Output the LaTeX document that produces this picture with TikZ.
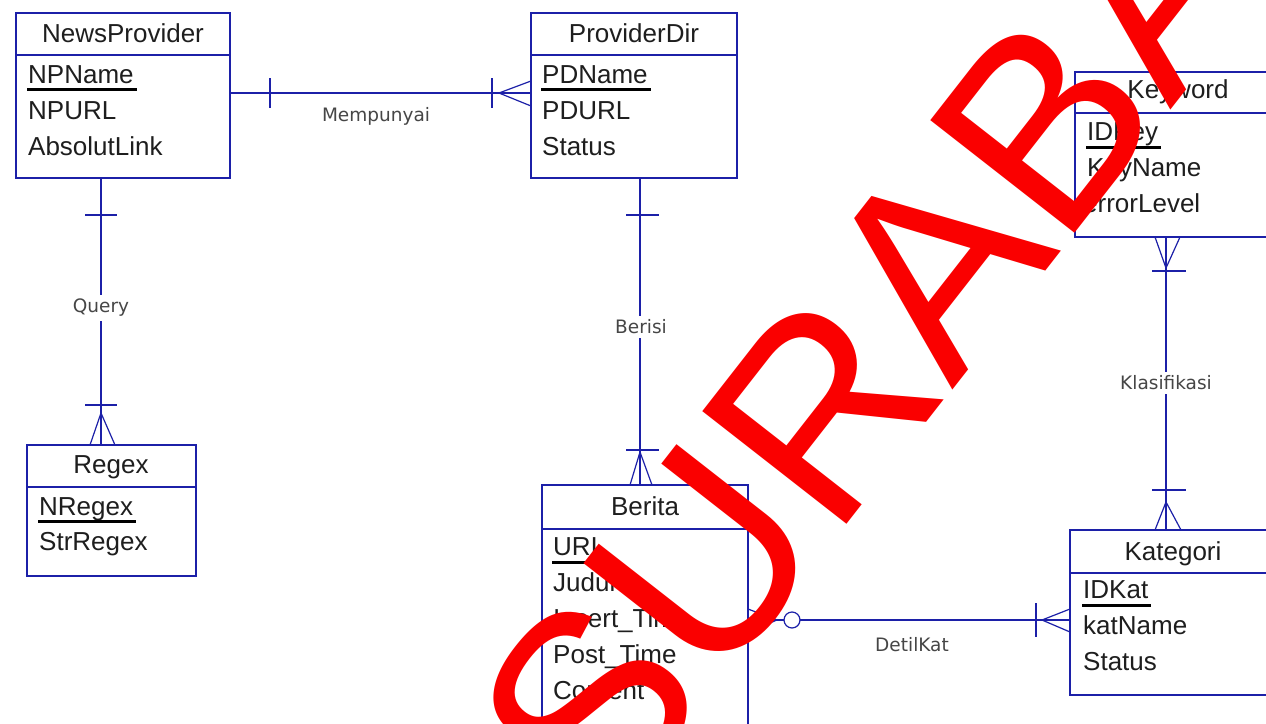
\documentclass[tikz,border=0pt]{standalone}
\usepackage{fontspec}
\setmainfont{Liberation Sans}
\newfontfamily\lblfamily{DejaVu Sans}
\usetikzlibrary{calc}
\definecolor{erblue}{RGB}{28,32,168}
\definecolor{txtcol}{RGB}{30,30,30}
\definecolor{lblcol}{RGB}{70,70,70}
\definecolor{wmred}{RGB}{250,0,0}

\begin{document}
\begin{tikzpicture}[x=1pt,y=-1pt,
  entity/.style={draw=erblue, line width=1.8pt, rectangle, inner sep=0pt, outer sep=0pt, anchor=north west},
  divider/.style={draw=erblue, line width=1.8pt},
  etitle/.style={anchor=base, inner sep=0pt, text=txtcol, font=\fontsize{26}{26}\selectfont},
  attr/.style={anchor=base west, inner sep=0pt, text=txtcol, font=\fontsize{26}{26}\selectfont},
  keyline/.style={draw=black, line width=3pt},
  rel/.style={draw=erblue, line width=1.5pt},
  foot/.style={draw=erblue, line width=1.2pt},
  rlabel/.style={inner sep=4pt, text=lblcol, font=\lblfamily\fontsize{18.5}{18.5}\selectfont},
  onlabel/.style={rlabel, fill=white},
  watermark/.style={inner sep=0pt, text=wmred, rotate=52, font=\fontsize{266}{266}\selectfont}
]
\fill[white] (0,0) rectangle (1266,723);
\useasboundingbox (0,0) rectangle (1266,723);
\clip (0,0) rectangle (1266,723);

% ---------- NewsProvider ----------
\node[entity, minimum width=214pt, minimum height=165pt] (np) at (16,13) {};
\draw[divider] (np.west |- 0,55) -- (np.east |- 0,55);
\node[etitle] (npT) at (123,42) {NewsProvider};
\node[attr] (npA1) at (28,83) {NPName};
\draw[keyline] ($(npA1.base west)+(-1,6)$) -- ($(npA1.base east)+(3,6)$);
\node[attr] (npA2) at (28,119) {NPURL};
\node[attr] (npA3) at (28,155) {AbsolutLink};

% ---------- ProviderDir ----------
\node[entity, minimum width=206pt, minimum height=165pt] (pd) at (531,13) {};
\draw[divider] (pd.west |- 0,55) -- (pd.east |- 0,55);
\node[etitle] (pdT) at (634,42) {ProviderDir};
\node[attr] (pdA1) at (542,83) {PDName};
\draw[keyline] ($(pdA1.base west)+(-1,6)$) -- ($(pdA1.base east)+(3,6)$);
\node[attr] (pdA2) at (542,119) {PDURL};
\node[attr] (pdA3) at (542,155) {Status};

% ---------- Keyword ----------
\node[entity, minimum width=206pt, minimum height=165pt] (kw) at (1075,72) {};
\draw[divider] (kw.west |- 0,113) -- (kw.east |- 0,113);
\node[etitle] (kwT) at (1178,98) {Keyword};
\node[attr] (kwA1) at (1087,140) {IDKey};
\draw[keyline] ($(kwA1.base west)+(-1,7)$) -- ($(kwA1.base east)+(3,7)$);
\node[attr] (kwA2) at (1087,176) {KeyName};
\node[attr] (kwA3) at (1083,212) {errorLevel};

% ---------- Regex ----------
\node[entity, minimum width=169pt, minimum height=131pt] (rx) at (27,445) {};
\draw[divider] (rx.west |- 0,487) -- (rx.east |- 0,487);
\node[etitle] (rxT) at (111,473) {Regex};
\node[attr] (rxA1) at (39,515) {NRegex};
\draw[keyline] ($(rxA1.base west)+(-1,6)$) -- ($(rxA1.base east)+(3,6)$);
\node[attr] (rxA2) at (39,550) {StrRegex};

% ---------- Berita ----------
\node[entity, minimum width=206pt, minimum height=260pt] (br) at (542,485) {};
\draw[divider] (br.west |- 0,529) -- (br.east |- 0,529);
\node[etitle] (brT) at (645,515) {Berita};
\node[attr] (brA1) at (553,555) {URL};
\draw[keyline] ($(brA1.base west)+(-1,7)$) -- ($(brA1.base east)+(3,7)$);
\node[attr] (brA2) at (553,591) {Judul};
\node[attr] (brA3) at (553,627) {Insert\_Time};
\node[attr] (brA4) at (553,663) {Post\_Time};
\node[attr] (brA5) at (553,699) {Content};

% ---------- Kategori ----------
\node[entity, minimum width=206pt, minimum height=165pt] (kt) at (1070,530) {};
\draw[divider] (kt.west |- 0,573) -- (kt.east |- 0,573);
\node[etitle] (ktT) at (1173,560) {Kategori};
\node[attr] (ktA1) at (1083,598) {IDKat};
\draw[keyline] ($(ktA1.base west)+(-1,7)$) -- ($(ktA1.base east)+(3,7)$);
\node[attr] (ktA2) at (1083,634) {katName};
\node[attr] (ktA3) at (1083,670) {Status};

% ---------- Mempunyai: NewsProvider 1 -- many ProviderDir ----------
\coordinate (mpA) at (np.east |- 0,93);
\coordinate (mpB) at (pd.west |- 0,93);
\draw[rel] (mpA) -- (mpB);
\draw[rel] ($(mpA)+(40,-15)$) -- ($(mpA)+(40,15)$);
\draw[rel] ($(mpB)+(-39,-15)$) -- ($(mpB)+(-39,15)$);
\draw[foot] ($(mpB)+(-32,0)$) -- ($(mpB)+(0,-12)$);
\draw[foot] ($(mpB)+(-32,0)$) -- ($(mpB)+(0,13)$);
\node[rlabel] (mpL) at (376,116) {Mempunyai};

% ---------- Query: NewsProvider 1 -- many Regex ----------
\coordinate (qA) at ($(np.south west)+(85,0)$);
\coordinate (qB) at ($(rx.north west)+(74,0)$);
\draw[rel] (qA) -- (qB);
\draw[rel] ($(qA)+(-16,37)$) -- ($(qA)+(16,37)$);
\draw[rel] ($(qB)+(-16,-40)$) -- ($(qB)+(16,-40)$);
\draw[foot] ($(qB)+(0,-32)$) -- ($(qB)+(-11,0)$);
\draw[foot] ($(qB)+(0,-32)$) -- ($(qB)+(14,0)$);
\node[onlabel] (qL) at (101,308) {Query};

% ---------- Berisi: ProviderDir 1 -- many Berita ----------
\coordinate (bA) at ($(pd.south west)+(109,0)$);
\coordinate (bB) at ($(br.north west)+(98,0)$);
\draw[rel] (bA) -- (bB);
\draw[rel] ($(bA)+(-14,37)$) -- ($(bA)+(19,37)$);
\draw[rel] ($(bB)+(-14,-35)$) -- ($(bB)+(19,-35)$);
\draw[foot] ($(bB)+(0,-33)$) -- ($(bB)+(-10,0)$);
\draw[foot] ($(bB)+(0,-33)$) -- ($(bB)+(12,0)$);
\node[onlabel] (bL) at (641,327) {Berisi};

% ---------- Klasifikasi: Keyword many -- many Kategori ----------
\coordinate (kA) at ($(kw.south west)+(91,0)$);
\coordinate (kB) at ($(kt.north west)+(96,0)$);
\draw[rel] (kA) -- (kB);
\draw[rel] ($(kA)+(-14,34)$) -- ($(kA)+(20,34)$);
\draw[foot] ($(kA)+(0,31)$) -- ($(kA)+(-11,0)$);
\draw[foot] ($(kA)+(0,31)$) -- ($(kA)+(14,0)$);
\draw[rel] ($(kB)+(-14,-40)$) -- ($(kB)+(20,-40)$);
\draw[foot] ($(kB)+(0,-28)$) -- ($(kB)+(-11,0)$);
\draw[foot] ($(kB)+(0,-28)$) -- ($(kB)+(15,0)$);
\node[onlabel] (kL) at (1166,383) {Klasifikasi};

% ---------- DetilKat: Berita zero-or-many -- many Kategori ----------
\coordinate (dA) at (br.east |- 0,620);
\coordinate (dB) at (kt.west |- 0,620);
\draw[rel] (dA) -- (dB);
\draw[foot] ($(dA)+(29,0)$) -- ($(dA)+(0,-11)$);
\draw[foot] ($(dA)+(29,0)$) -- ($(dA)+(0,12)$);
\draw[foot, fill=white] ($(dA)+(44,0)$) circle[radius=8pt];
\draw[rel] ($(dB)+(-34,-17)$) -- ($(dB)+(-34,17)$);
\draw[foot] ($(dB)+(-28,0)$) -- ($(dB)+(0,-11)$);
\draw[foot] ($(dB)+(-28,0)$) -- ($(dB)+(0,12)$);
\node[rlabel] (dL) at (912,645) {DetilKat};

% ---------- stamp ----------
\node[watermark] (wm) at (968,221) {SURABAYA};
\end{tikzpicture}
\end{document}
